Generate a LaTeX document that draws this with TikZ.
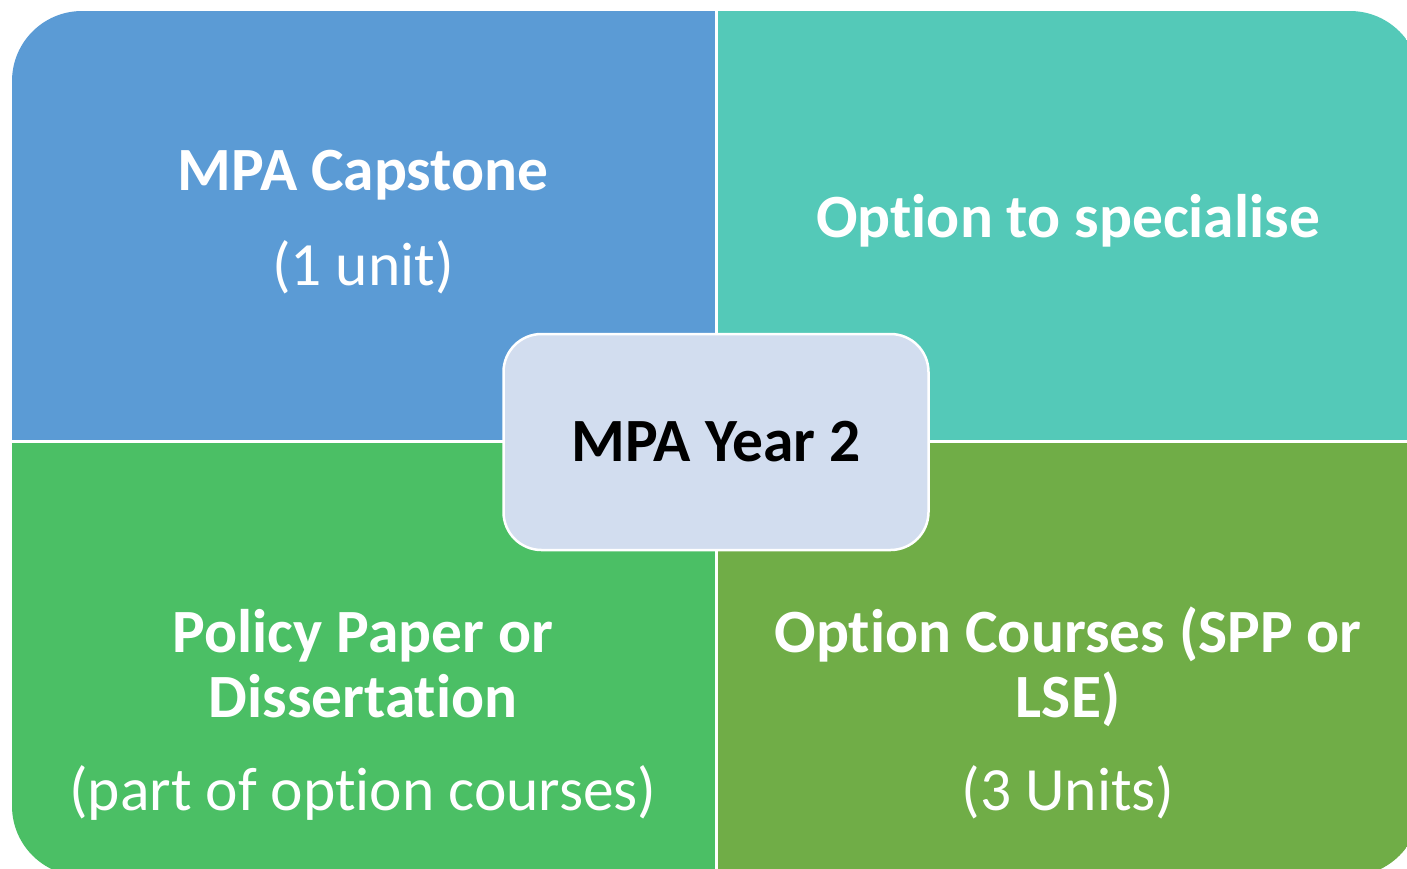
\documentclass[tikz,border=0pt]{standalone}
\usepackage{fontspec}
\setmainfont[Ligatures=NoCommon]{Carlito}
\usetikzlibrary{positioning}
\definecolor{capblue}{HTML}{5B9BD5}
\definecolor{spectea}{HTML}{54C9B8}
\definecolor{polgreen}{HTML}{4BBF65}
\definecolor{optgreen}{HTML}{70AD47}
\definecolor{yearfill}{HTML}{D2DDEF}
\tikzset{
	title/.style={anchor=base, text=white, font=\fontsize{61.5}{68}\selectfont\bfseries, inner sep=0pt},
	sub/.style={anchor=base, text=white, font=\fontsize{61.5}{68}\selectfont, inner sep=0pt},
	hub/.style={rectangle, rounded corners=38pt, minimum width=425pt, minimum height=216pt, draw=white, line width=2.5pt, fill=yearfill, text centered, font=\fontsize{61.5}{68}\selectfont\bfseries}
}
\begin{document}
\begin{tikzpicture}[x=1pt, y=-1pt]
		\useasboundingbox (0,0) rectangle (1407,868);
		
		% Quadrants
		\begin{scope}
			\clip[rounded corners=70pt] (12,11) rectangle (1420,876);
			\fill[capblue] (12,11) rectangle (714.5,439.5);
			\fill[spectea] (717.5,11) rectangle (1420,439.5);
			\fill[polgreen] (12,442.5) rectangle (714.5,876);
			\fill[optgreen] (717.5,442.5) rectangle (1420,876);
		\end{scope}
		
		% Texts
		\node (capstone) [title] at (363,190) {MPA Capstone};
		\node (capunit) [sub] at ([yshift=-95pt]capstone.base) {(1 unit)};
		\node (specialise) [title] at (1068,237) {Option to specialise};
		\node (policy) [title] at (363,652) {Policy Paper or};
		\node (dissert) [title] at ([yshift=-65pt]policy.base) {Dissertation};
		\node (polpart) [sub] at ([yshift=-93pt]dissert.base) {(part of option courses)};
		\node (courses) [title] at (1068,652) {Option Courses (SPP or};
		\node (lse) [title] at ([yshift=-65pt]courses.base) {LSE)};
		\node (units) [sub] at ([yshift=-93pt]lse.base) {(3 Units)};
		
		% Centre
		\node (year) [hub] at (716,442) {MPA Year 2};
		
	\end{tikzpicture}
\end{document}
